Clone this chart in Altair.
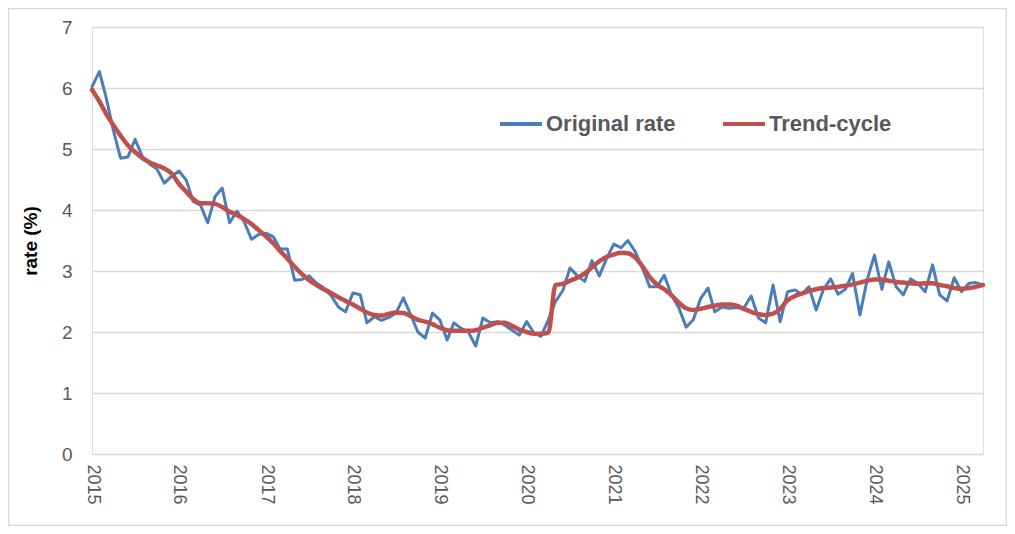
import altair as alt
import pandas as pd

# Monthly categories Jan 2015 .. Apr 2025
months = [f"{y}-{m:02d}-01T00:00:00" for y in range(2015, 2026) for m in range(1, 13)][:124]

original_rate = [
    6.02, 6.27, 5.85, 5.30, 4.85, 4.87, 5.16, 4.87, 4.75, 4.67, 4.44, 4.55,
    4.64, 4.49, 4.14, 4.08, 3.79, 4.22, 4.36, 3.79, 3.98, 3.81, 3.52, 3.60,
    3.62, 3.56, 3.36, 3.36, 2.85, 2.86, 2.92, 2.80, 2.72, 2.60, 2.41, 2.33,
    2.64, 2.61, 2.15, 2.25, 2.19, 2.24, 2.31, 2.56, 2.28, 2.00, 1.90, 2.31,
    2.20, 1.87, 2.15, 2.06, 2.00, 1.77, 2.23, 2.15, 2.17, 2.11, 2.03, 1.95,
    2.17, 1.98, 1.93, 2.20, 2.50, 2.68, 3.05, 2.92, 2.83, 3.17, 2.92, 3.20,
    3.44, 3.38, 3.50, 3.32, 3.05, 2.74, 2.74, 2.93, 2.60, 2.40, 2.08, 2.20,
    2.55, 2.72, 2.33, 2.41, 2.39, 2.40, 2.39, 2.59, 2.23, 2.15, 2.77, 2.17,
    2.66, 2.69, 2.62, 2.74, 2.36, 2.70, 2.87, 2.62, 2.70, 2.96, 2.28, 2.85,
    3.26, 2.70, 3.15, 2.74, 2.61, 2.87, 2.80, 2.66, 3.10, 2.61, 2.51, 2.89,
    2.66, 2.80, 2.81, 2.77,
]

trend_cycle = [
    5.97, 5.78, 5.58, 5.39, 5.22, 5.06, 4.95, 4.85, 4.78, 4.73, 4.68, 4.60,
    4.43, 4.30, 4.18, 4.11, 4.11, 4.10, 4.05, 3.97, 3.92, 3.85, 3.77, 3.67,
    3.57, 3.45, 3.33, 3.20, 3.07, 2.95, 2.85, 2.77, 2.70, 2.64, 2.57, 2.51,
    2.45, 2.38, 2.32, 2.28, 2.27, 2.30, 2.32, 2.31, 2.26, 2.20, 2.17, 2.13,
    2.07, 2.03, 2.02, 2.02, 2.02, 2.03, 2.07, 2.11, 2.15, 2.15, 2.10, 2.04,
    2.00, 1.97, 1.97, 1.99, 2.77, 2.79, 2.84, 2.89, 2.96, 3.06, 3.16, 3.23,
    3.27, 3.30, 3.29, 3.22, 3.08, 2.90, 2.78, 2.70, 2.60, 2.48, 2.39, 2.36,
    2.38, 2.41, 2.43, 2.45, 2.45, 2.43, 2.38, 2.33, 2.29, 2.28, 2.30, 2.38,
    2.52, 2.59, 2.63, 2.67, 2.70, 2.72, 2.73, 2.74, 2.76, 2.78, 2.81, 2.84,
    2.86, 2.86, 2.84, 2.82, 2.81, 2.80, 2.79, 2.80, 2.80, 2.77, 2.75, 2.72,
    2.71, 2.72, 2.74, 2.77,
]

series_names = ["Original rate", "Trend-cycle"]
series_colors = ["#4A7EBB", "#C0504D"]
year_ticks = list(range(2015, 2026))
y_ticks = [0, 1, 2, 3, 4, 5, 6, 7]

df = pd.DataFrame({
    "date": months * 2,
    "rate": original_rate + trend_cycle,
    "series": [series_names[0]] * len(months) + [series_names[1]] * len(months),
})

FONT = "Liberation Sans"
W, H = 891, 427
PL, PT, PR, PB = 84, 19, 24, 72

color = alt.Color(
    "series:N",
    scale=alt.Scale(domain=series_names, range=series_colors),
    legend=alt.Legend(
        title=None, orient="none", legendX=406, legendY=74,
        direction="horizontal", symbolType="stroke", symbolSize=1764,
        symbolStrokeWidth=4, labelFont=FONT, labelFontSize=22,
        labelFontWeight="bold", labelColor="#595959", columnPadding=39,
        labelOffset=2, padding=0,
    ),
)

x = alt.X(
    "date:T",
    scale=alt.Scale(domain=[alt.DateTime(year=2015, month=1, date=1),
                            alt.DateTime(year=2025, month=4, date=1)]),
    axis=alt.Axis(
        values=[alt.DateTime(year=y, month=1, date=1) for y in year_ticks],
        format="%Y", labelAngle=90, labelFont=FONT, labelFontSize=18,
        labelColor="#595959", grid=False, domain=False, ticks=False,
        labelPadding=10, title=None,
    ),
)

y = alt.Y(
    "rate:Q",
    scale=alt.Scale(domain=[0, 7], nice=False),
    axis=alt.Axis(
        values=y_ticks, title="rate (%)", titleFont=FONT, titleFontSize=19,
        titleFontWeight="bold", titleColor="#000000", titlePadding=21,
        labelFont=FONT, labelFontSize=19, labelColor="#595959",
        grid=True, gridColor="#D9D9D9", gridWidth=1.3, domain=False,
        ticks=False, labelPadding=20,
    ),
)

base = alt.Chart(df).encode(x=x, y=y, color=color)

blue = base.transform_filter(alt.datum.series == series_names[0]).mark_line(
    strokeWidth=3, strokeJoin="round", strokeCap="round"
)
red = base.transform_filter(alt.datum.series == series_names[1]).mark_line(
    strokeWidth=4.5, strokeJoin="round", strokeCap="round", interpolate="monotone"
)

frame = alt.Chart(pd.DataFrame({"f": [0]})).mark_rect(
    fillOpacity=0, stroke="#D9D9D9", strokeWidth=1.3
).encode(
    x=alt.value(-PL + 0.7), x2=alt.value(W + PR - 0.7),
    y=alt.value(-PT + 0.7), y2=alt.value(H + PB - 0.7),
)

chart = alt.layer(frame, blue, red).properties(
    width=W, height=H,
    autosize=alt.AutoSizeParams(type="none"),
    padding={"left": PL, "top": PT, "right": PR, "bottom": PB},
).configure_view(stroke=None).configure(background="white")

chart.save("out.html", embed_options={"renderer": "svg", "actions": False})
